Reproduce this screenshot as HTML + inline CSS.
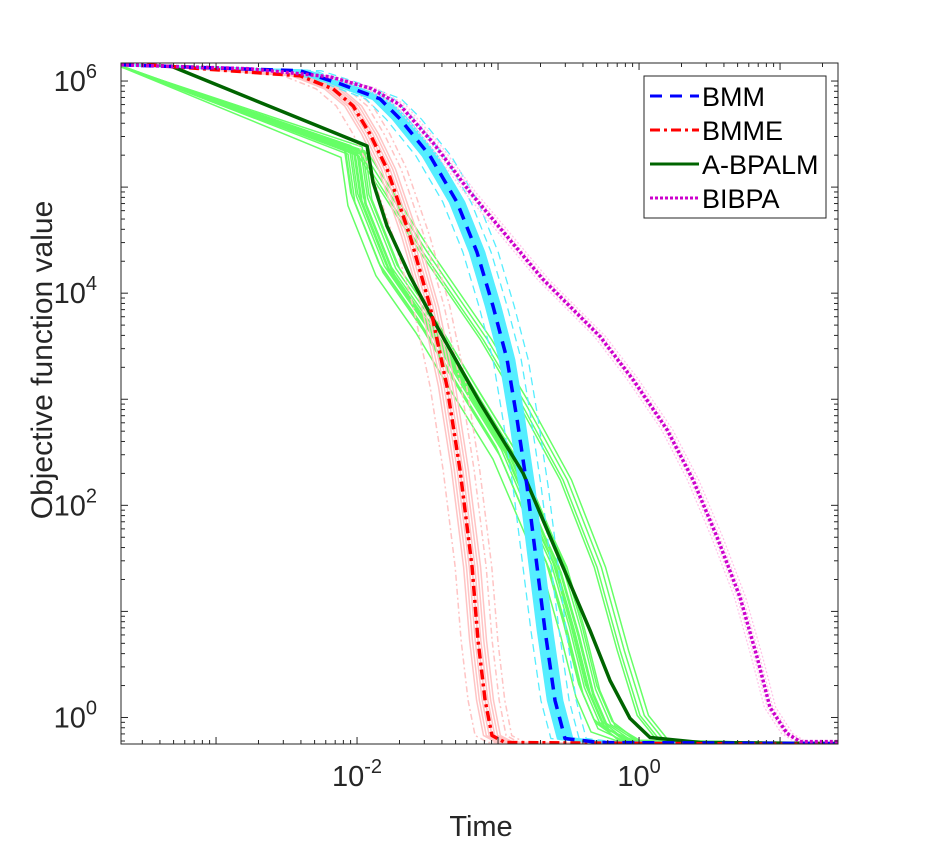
<!DOCTYPE html>
<html><head><meta charset="utf-8"><style>
html,body{margin:0;padding:0;background:#fff;}
svg{display:block;font-family:"Liberation Sans",sans-serif;}
</style></head><body>
<svg id="chart" width="928" height="845" viewBox="0 0 928 845">
<defs><clipPath id="clip"><rect x="121" y="63" width="717" height="681"/></clipPath></defs>
<rect x="0" y="0" width="928" height="845" fill="#fff"/>
<rect x="121" y="63" width="717" height="681" fill="#fff"/>
<g id="bundles" clip-path="url(#clip)"></g>
<g id="mains" clip-path="url(#clip)"></g>
<g id="axes"></g>
<text x="481" y="836" font-size="29" text-anchor="middle" fill="#262626">Time</text>
<text transform="translate(52,360) rotate(-90)" font-size="30" text-anchor="middle" fill="#262626">Objective function value</text>
<g>
<rect x="644" y="76" width="182" height="142" fill="#fff" stroke="#262626" stroke-width="1"/>
<g><line x1="650" y1="96" x2="699" y2="96" stroke="#0000ff" stroke-width="3" stroke-dasharray="12,8"/><text x="702" y="106" font-size="27" fill="#000">BMM</text></g>
<g><line x1="650" y1="130" x2="699" y2="130" stroke="#ff0000" stroke-width="3" stroke-dasharray="10,4,3,4"/><text x="702" y="140" font-size="27" fill="#000">BMME</text></g>
<g><line x1="650" y1="164" x2="699" y2="164" stroke="#006400" stroke-width="3"/><text x="702" y="174" font-size="27" fill="#000">A-BPALM</text></g>
<g><line x1="650" y1="198" x2="699" y2="198" stroke="#cc00cc" stroke-width="3" stroke-dasharray="3,2"/><text x="702" y="208" font-size="27" fill="#000">BIBPA</text></g>
</g>
</svg>
<script>
// data (log10 time, log10 objective)
const bmmLogT = [-3.674,-2.404,-2.121,-1.837,-1.695,-1.482,-1.291,-1.149,-1.035,-0.936,-0.865,-0.794,-0.723,-0.667,-0.596,-0.525,-0.277,1.411];
const bmmLogF = [6.153,6.096,5.974,5.832,5.643,5.293,4.858,4.386,3.875,3.374,2.807,2.174,1.418,0.822,0.161,-0.198,-0.236,-0.246];
const bmmeLogT = [-3.489,-2.404,-2.170,-2.028,-1.908,-1.787,-1.624,-1.482,-1.362,-1.270,-1.184,-1.142,-1.092,-1.043,-0.950,1.411];
const bmmeLogF = [6.153,6.049,5.926,5.766,5.501,5.170,4.537,3.875,3.119,2.335,1.418,0.728,0.161,-0.170,-0.236,-0.255];
const abpLogT = [-3.326,-1.929,-1.887,-1.787,-1.624,-1.433,-1.128,-0.823,-0.539,-0.348,-0.206,-0.064,0.078,0.433,1.411];
const abpLogF = [6.144,5.388,5.047,4.631,4.159,3.686,2.968,2.306,1.418,0.822,0.350,-0.009,-0.189,-0.236,-0.246];
const bibLogT = [-3.674,-2.759,-2.191,-1.900,-1.700,-1.450,-1.199,-0.681,-0.277,-0.043,0.199,0.383,0.553,0.716,0.837,0.929,1.050,1.142,1.411];
const bibLogF = [6.153,6.115,6.040,5.930,5.780,5.400,4.953,4.130,3.592,3.185,2.713,2.240,1.701,1.134,0.567,0.095,-0.151,-0.227,-0.227];
const grnLogT = [-3.674,-2.014,-1.965,-1.766,-1.482,-1.199,-0.936,-0.681,-0.582,-0.454,-0.348,-0.241,-0.064,1.411];
const grnLogF = [6.134,5.340,4.887,4.225,3.686,3.062,2.495,1.701,1.418,0.822,0.255,-0.076,-0.217,-0.246];
const grnOutLogT = [-3.674,-1.979,-1.532,-1.106,-0.823,-0.539,-0.298,-0.135,0.007,0.149,1.411];
const grnOutLogF = [6.144,5.312,4.386,3.563,2.930,2.240,1.418,0.633,0.019,-0.217,-0.246];
// per-run shifts (log10 time, log10 objective)
const grnShiftT = [-0.10,-0.07,-0.05,-0.03,-0.01,0.01,0.03,0.05,0.07,-0.08,0.0,0.04,-0.04,0.02];
const grnShiftF = [-0.06,0.03,-0.03,0.05,-0.01,0.02,-0.05,0.04,0.0,0.06,-0.02,0.01,0.03,-0.04];
const grnOutShiftT = [0,0.03,0.06,-0.02];
const cyanShiftT = [-0.05,-0.035,-0.02,-0.01,0,0.01,0.02,0.035,0.05,-0.1,0.1,0.15];
const pinkShiftT = [-0.06,-0.04,-0.02,0,0.02,0.04,0.06,-0.12,0.1,0.14];
const magShiftT = [-0.04,-0.02,0.02,0.04];
const yTickExp = [6,4,2,0];
const xTickExp = [-2,0];

const X0=121,X1=838,Y0=63,Y1=744;
const xMin=-3.674,xMax=1.411,yMin=-0.25,yMax=6.17;
function sx(v){return X0+(v-xMin)/(xMax-xMin)*(X1-X0);}
function sy(v){return Y1-(v-yMin)/(yMax-yMin)*(Y1-Y0);}
const NS='http://www.w3.org/2000/svg';
function mk(tag,attrs,parent){const e=document.createElementNS(NS,tag);for(const k in attrs)e.setAttribute(k,attrs[k]);parent.appendChild(e);return e;}
function pathD(T,F,dt,df){let d='';for(let i=0;i<T.length;i++){const fixedF=i===0||i>=T.length-2;const y=F[i]+(fixedF?0:df);const fixedT=i===0||i===T.length-1;d+=(i?'L':'M')+sx(T[i]+(fixedT?0:dt)).toFixed(1)+','+sy(y).toFixed(1);}return d;}
const B=document.getElementById('bundles'),M=document.getElementById('mains'),A=document.getElementById('axes');

grnShiftT.forEach((s,i)=>{const p=mk('path',{d:pathD(grnLogT,grnLogF,s,grnShiftF[i]),fill:'none',stroke:'#66ff66','stroke-width':1.5},B);

});
grnOutShiftT.forEach(s=>{const p=mk('path',{d:pathD(grnOutLogT,grnOutLogF,s,0),fill:'none',stroke:'#66ff66','stroke-width':1.5},B);

});
pinkShiftT.forEach(s=>{const p=mk('path',{d:pathD(bmmeLogT,bmmeLogF,s,0),fill:'none',stroke:'#ffc4c4','stroke-width':1.5,'stroke-dasharray':Math.abs(s)>0.08?'6,3,2,3':'none'},B);

});
cyanShiftT.forEach(s=>{const p=mk('path',{d:pathD(bmmLogT,bmmLogF,s,0),fill:'none',stroke:'#55eeff','stroke-width':Math.abs(s)>0.08?1.3:2.5,'stroke-dasharray':Math.abs(s)>0.08?'8,5':'none'},B);

});
magShiftT.forEach(s=>{const p=mk('path',{d:pathD(bibLogT,bibLogF,s,0),fill:'none',stroke:'#ffc4e8','stroke-width':1.3,'stroke-dasharray':'2,2'},B);

});

const mains=[[abpLogT,abpLogF,'#006400','none','a-bpalm-line'],[bmmeLogT,bmmeLogF,'#ff0000','10,4,3,4','bmme-line'],[bmmLogT,bmmLogF,'#0000ff','12,8','bmm-line'],[bibLogT,bibLogF,'#cc00cc','3,2','bibpa-line']];
mains.forEach(m=>{const p=mk('path',{d:pathD(m[0],m[1],0,0),fill:'none',stroke:m[2],'stroke-width':3.5,'stroke-dasharray':m[3],'stroke-linejoin':'round'},M);

});

const box=mk('rect',{x:X0,y:Y0,width:X1-X0,height:Y1-Y0,fill:'none',stroke:'#262626','stroke-width':1},A);


for(let e=-4;e<=1;e++)for(let k=1;k<10;k++){const v=e+Math.log10(k);if(v<xMin||v>xMax)continue;const x=sx(v),L=k===1?7:4;
mk('line',{x1:x,y1:Y1,x2:x,y2:Y1-L,stroke:'#262626'},A);mk('line',{x1:x,y1:Y0,x2:x,y2:Y0+L,stroke:'#262626'},A);}
for(let e=-1;e<=6;e++)for(let k=1;k<10;k++){const v=e+Math.log10(k);if(v<yMin||v>yMax)continue;const y=sy(v),L=k===1?7:4;
mk('line',{x1:X0,y1:y,x2:X0+L,y2:y,stroke:'#262626'},A);mk('line',{x1:X1,y1:y,x2:X1-L,y2:y,stroke:'#262626'},A);}
yTickExp.forEach(e=>{const t=mk('text',{x:97,y:sy(e)+10,'font-size':29,'text-anchor':'end',fill:'#262626'},A);t.textContent='10';
const s=mk('tspan',{dy:-13,'font-size':20},t);s.textContent=String(e);

});
xTickExp.forEach(e=>{const t=mk('text',{x:sx(e),y:sy(-0.25)+42,'font-size':29,'text-anchor':'middle',fill:'#262626'},A);t.textContent='10';
const s=mk('tspan',{dy:-13,'font-size':20},t);s.textContent=String(e);

});
</script>
</body></html>
